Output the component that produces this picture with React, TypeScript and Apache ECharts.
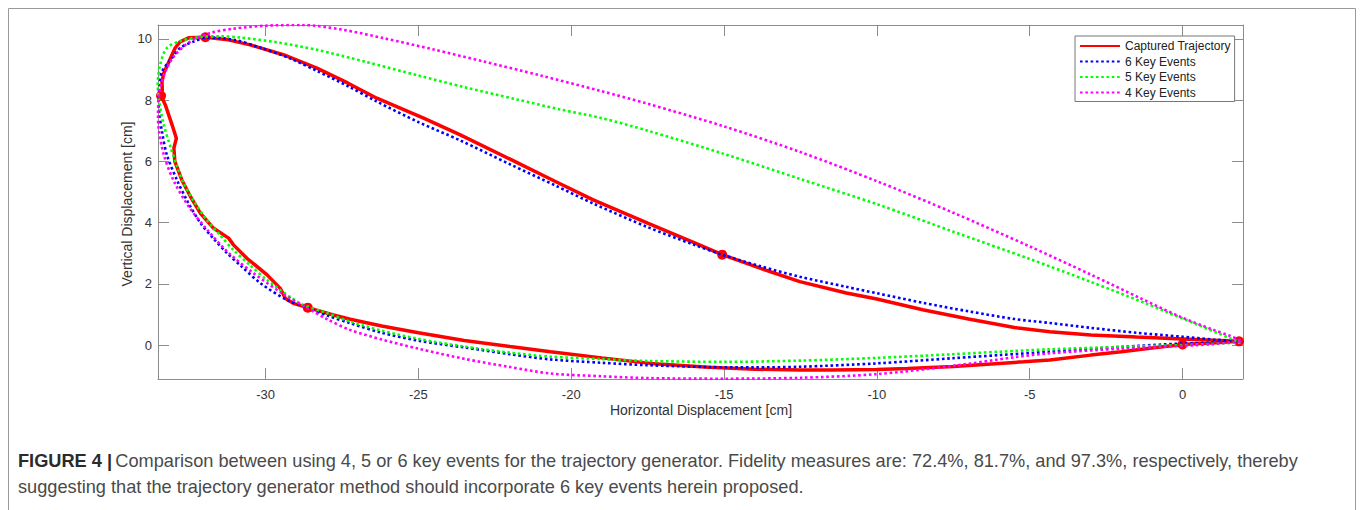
import { useEffect, useRef } from "react";
import * as echarts from "echarts";

// Axis extents (tight around the data, as in the original MATLAB figure)
const X_MIN = -33.52;
const X_MAX = 1.98;
const Y_MIN = -1.11;
const Y_MAX = 10.45;

const xTicks = [-30, -25, -20, -15, -10, -5, 0];
const yTicks = [0, 2, 4, 6, 8, 10];

const legendNames = ["Captured Trajectory", "6 Key Events", "5 Key Events", "4 Key Events"];

// Measured foot trajectory [horizontal cm, vertical cm]
const capturedTrajectory: [number, number][] = [
  [1.85, 0.12], [1.2, 0.08], [0, 0.02], [-1, -0.1], [-2, -0.22], [-3, -0.33],
  [-4.34, -0.49], [-5.2, -0.55], [-6, -0.6], [-7.5, -0.7], [-9, -0.77], [-10, -0.8],
  [-11.5, -0.82], [-12.52, -0.82], [-14, -0.79], [-15.5, -0.73], [-17.41, -0.6],
  [-19, -0.42], [-20.68, -0.22], [-22, -0.05], [-23.5, 0.15], [-25, 0.4], [-26.2, 0.62],
  [-27.23, 0.84], [-27.78, 0.98], [-28.62, 1.22], [-29.09, 1.36], [-29.36, 1.53],
  [-29.41, 1.63], [-29.52, 1.85], [-29.95, 2.29], [-30.61, 2.83], [-31.05, 3.27],
  [-31.21, 3.49], [-31.7, 3.81], [-32.13, 4.3], [-32.46, 4.85], [-32.74, 5.39],
  [-32.97, 6.0], [-33.0, 6.43], [-32.92, 6.75], [-33.06, 7.19], [-33.28, 7.84],
  [-33.42, 8.14], [-33.38, 8.33], [-33.39, 8.6], [-33.33, 8.88], [-33.06, 9.48],
  [-32.96, 9.7], [-32.8, 9.9], [-32.52, 10.03], [-31.97, 10.05], [-31.3, 9.98],
  [-30.5, 9.8], [-29.42, 9.48], [-28.32, 9.04], [-27.3, 8.55], [-26.36, 8.06],
  [-24.83, 7.41], [-23.63, 6.86], [-22, 6.07], [-20.5, 5.33], [-19.28, 4.74],
  [-17.5, 3.98], [-16, 3.35], [-15.06, 2.95], [-13.8, 2.5], [-12.52, 2.07],
  [-11, 1.7], [-10, 1.5], [-8.5, 1.15], [-7, 0.85], [-5.5, 0.57], [-4.34, 0.43],
  [-3, 0.33], [-1.5, 0.26], [0, 0.2], [1.85, 0.12],
];

// Key events detected on the captured trajectory
const keyEventPoints: [number, number][] = [
  [1.85, 0.12], [0, 0.02], [-15.06, 2.95], [-28.62, 1.22], [-33.42, 8.14], [-31.97, 10.05],
];

// Generated trajectory from 6 key events
const keyEvents6: [number, number][] = [
  [1.9, 0.12], [1, 0.08], [0, 0.05], [-2, -0.06], [-4.34, -0.22], [-6, -0.33],
  [-7.5, -0.43], [-10, -0.6], [-12.52, -0.71], [-14, -0.73], [-15.5, -0.72],
  [-17.5, -0.66], [-19, -0.58], [-20.68, -0.47], [-22, -0.3], [-23.5, -0.08],
  [-25, 0.14], [-26.2, 0.4], [-27.23, 0.71], [-28, 0.97], [-28.62, 1.22],
  [-29.3, 1.47], [-30.17, 2.02], [-30.8, 2.58], [-31.26, 3.0], [-31.7, 3.47],
  [-32.13, 3.98], [-32.55, 4.68], [-32.9, 5.39], [-33.23, 6.21], [-33.39, 6.97],
  [-33.48, 7.6], [-33.5, 8.1], [-33.47, 8.5], [-33.39, 8.93], [-33.06, 9.37],
  [-32.8, 9.7], [-32.35, 9.91], [-31.92, 10.04], [-31.05, 9.97], [-30.2, 9.72],
  [-29.2, 9.36], [-28.32, 8.95], [-27.3, 8.45], [-26.36, 7.95], [-25, 7.28],
  [-23.63, 6.68], [-22, 5.9], [-20.5, 5.2], [-19.28, 4.62], [-17.5, 3.85],
  [-16, 3.28], [-15.06, 2.95], [-13.8, 2.57], [-12.52, 2.23], [-11, 1.9],
  [-10, 1.69], [-8.5, 1.38], [-7, 1.1], [-5.5, 0.85], [-4.34, 0.72], [-3, 0.56],
  [-1.5, 0.4], [0, 0.27], [1, 0.18], [1.9, 0.12],
];

// Generated trajectory from 5 key events
const keyEvents5: [number, number][] = [
  [1.9, 0.08], [1, 0.04], [0, 0.0], [-2, -0.06], [-4.34, -0.14], [-6, -0.22],
  [-7.5, -0.3], [-10, -0.42], [-12.52, -0.51], [-15, -0.55], [-17.5, -0.52],
  [-19, -0.46], [-20.68, -0.38], [-22, -0.25], [-23.5, -0.05], [-25, 0.2],
  [-26.2, 0.47], [-27.23, 0.76], [-28.1, 1.08], [-28.87, 1.36], [-29.95, 2.12],
  [-30.5, 2.6], [-31.05, 3.1], [-31.5, 3.6], [-31.92, 4.08], [-32.35, 4.7],
  [-32.68, 5.28], [-32.9, 5.85], [-33.1, 6.43], [-33.33, 7.19], [-33.48, 7.95],
  [-33.53, 8.5], [-33.45, 9.15], [-33.23, 9.7], [-32.8, 9.92], [-32.13, 10.06],
  [-31.5, 10.08], [-30.83, 10.04], [-29.6, 9.88], [-28.32, 9.64], [-26.7, 9.24],
  [-25, 8.8], [-23.5, 8.42], [-21.78, 8.02], [-20.4, 7.7], [-19.05, 7.42],
  [-17.5, 7.0], [-15, 6.24], [-12.5, 5.42], [-10, 4.6], [-7.5, 3.7], [-5, 2.81],
  [-3, 2.06], [-1.2, 1.36], [-0.52, 1.08], [0.5, 0.66], [1.55, 0.22], [1.9, 0.08],
];

// Generated trajectory from 4 key events
const keyEvents4: [number, number][] = [
  [1.9, 0.12], [1, 0.03], [0, -0.03], [-2, -0.12], [-4.34, -0.27], [-5.5, -0.4],
  [-7.5, -0.68], [-10, -0.95], [-12.5, -1.07], [-15, -1.1], [-17.5, -1.08],
  [-19, -1.02], [-20.68, -0.93], [-22, -0.72], [-23.5, -0.45], [-25, -0.12],
  [-26.2, 0.18], [-27.23, 0.49], [-28, 0.85], [-28.62, 1.2], [-29.4, 1.65],
  [-30.4, 2.35], [-31.2, 3.0], [-31.9, 3.75], [-32.5, 4.5], [-33.0, 5.35],
  [-33.33, 6.21], [-33.5, 7.08], [-33.52, 7.52], [-33.45, 8.4], [-33.23, 9.04],
  [-32.96, 9.48], [-32.46, 9.91], [-31.8, 10.19], [-31.05, 10.33], [-29.95, 10.43],
  [-28.8, 10.45], [-27.5, 10.3], [-26.14, 10.02], [-24.5, 9.65], [-22.87, 9.26],
  [-21, 8.8], [-19.05, 8.3], [-17.5, 7.88], [-15, 7.14], [-12.5, 6.3],
  [-10, 5.35], [-7.5, 4.32], [-5, 3.22], [-3, 2.3], [-1.4, 1.54], [-0.09, 0.93],
  [1.0, 0.5], [1.55, 0.3], [1.9, 0.15],
];

const FONT = '"Liberation Sans", Arial, Helvetica, sans-serif';
const AXIS_COLOR = "#8c8c8c";
const LABEL_COLOR = "#333333";
const DOT = [2.6, 2.7];
const CAPTION_SIZE = 18.2;

function makeXAxis(position: "bottom" | "top", labels: boolean) {
  return {
    type: "value",
    position,
    min: X_MIN,
    max: X_MAX,
    axisLine: { show: true, onZero: false, lineStyle: { color: AXIS_COLOR, width: 1 } },
    axisTick: { show: true, inside: true, length: 11, customValues: xTicks, lineStyle: { color: AXIS_COLOR } },
    axisLabel: {
      show: labels,
      customValues: xTicks,
      margin: 9,
      fontSize: 13,
      color: LABEL_COLOR,
      fontFamily: FONT,
    },
    splitLine: { show: false },
  };
}

function makeYAxis(position: "left" | "right", labels: boolean) {
  return {
    type: "value",
    position,
    min: Y_MIN,
    max: Y_MAX,
    axisLine: { show: true, onZero: false, lineStyle: { color: AXIS_COLOR, width: 1 } },
    axisTick: { show: true, inside: true, length: 11, customValues: yTicks, lineStyle: { color: AXIS_COLOR } },
    axisLabel: {
      show: labels,
      customValues: yTicks,
      margin: 6,
      fontSize: 13,
      color: LABEL_COLOR,
      fontFamily: FONT,
    },
    splitLine: { show: false },
  };
}

function dottedSeries(name: string, data: [number, number][], color: string) {
  return {
    type: "line",
    name,
    data,
    xAxisIndex: 0,
    yAxisIndex: 0,
    symbol: "none",
    showSymbol: false,
    smooth: 0.3,
    lineStyle: { color, width: 2.6, type: DOT },
    itemStyle: { color },
  };
}

export default function App() {
  const ref = useRef<HTMLDivElement>(null);

  useEffect(() => {
    document.body.style.margin = "0";
    if (!ref.current) return;
    const chart = echarts.init(ref.current, undefined, { renderer: "svg" });

    chart.setOption({
      animation: false,
      backgroundColor: "#ffffff",
      grid: { left: 158, right: 117, top: 25, bottom: 131 },
      xAxis: [makeXAxis("bottom", true), makeXAxis("top", false)],
      yAxis: [makeYAxis("left", true), makeYAxis("right", false)],
      legend: {
        data: legendNames,
        orient: "vertical",
        left: 1075,
        top: 36,
        padding: [4, 4, 3, 4],
        itemGap: 3.5,
        itemWidth: 40,
        itemHeight: 12,
        backgroundColor: "#ffffff",
        borderColor: "#777777",
        borderWidth: 1,
        selectedMode: false,
        itemStyle: { opacity: 0 },
        textStyle: { fontSize: 12, color: "#222222", fontFamily: FONT },
      },
      series: [
        {
          type: "line",
          name: "Captured Trajectory",
          data: capturedTrajectory,
          symbol: "none",
          showSymbol: false,
          lineStyle: { color: "#ff0000", width: 3.5 },
          itemStyle: { color: "#ff0000" },
        },
        {
          type: "scatter",
          name: "Key events",
          data: keyEventPoints,
          symbol: "circle",
          symbolSize: 10,
          itemStyle: { color: "#ff0000", opacity: 1 },
        },
        dottedSeries("6 Key Events", keyEvents6, "#0000ff"),
        dottedSeries("5 Key Events", keyEvents5, "#00ff00"),
        dottedSeries("4 Key Events", keyEvents4, "#ff00ff"),
      ],
      graphic: [
        {
          type: "rect",
          silent: true,
          shape: { x: 8.5, y: 8.5, width: 1347, height: 600 },
          style: { fill: "none", stroke: "#9a9a9a", lineWidth: 1 },
        },
        {
          type: "text",
          silent: true,
          x: 701,
          y: 410,
          style: {
            text: "Horizontal Displacement [cm]",
            fontSize: 14,
            fontFamily: FONT,
            fill: LABEL_COLOR,
            align: "center",
            verticalAlign: "middle",
          },
        },
        {
          type: "text",
          silent: true,
          x: 127,
          y: 204,
          rotation: Math.PI / 2,
          style: {
            text: "Vertical Displacement [cm]",
            fontSize: 14,
            fontFamily: FONT,
            fill: LABEL_COLOR,
            align: "center",
            verticalAlign: "middle",
          },
        },
        {
          type: "text",
          silent: true,
          x: 18,
          y: 461,
          style: {
            text:
              "{b|FIGURE 4 |} {r|Comparison between using 4, 5 or 6 key events for the trajectory generator. Fidelity measures are: 72.4%, 81.7%, and 97.3%, respectively, thereby}",
            verticalAlign: "middle",
            rich: {
              b: { fontSize: CAPTION_SIZE, fontWeight: "bold", fontFamily: FONT, fill: "#2b2b2b" },
              r: { fontSize: CAPTION_SIZE, fontFamily: FONT, fill: "#4a4a4a" },
            },
          },
        },
        {
          type: "text",
          silent: true,
          x: 18,
          y: 487,
          style: {
            text: "suggesting that the trajectory generator method should incorporate 6 key events herein proposed.",
            fontSize: CAPTION_SIZE,
            fontFamily: FONT,
            fill: "#4a4a4a",
            verticalAlign: "middle",
          },
        },
      ],
    });

    return () => chart.dispose();
  }, []);

  return <div ref={ref} style={{ width: 1360, height: 510 }} />;
}
